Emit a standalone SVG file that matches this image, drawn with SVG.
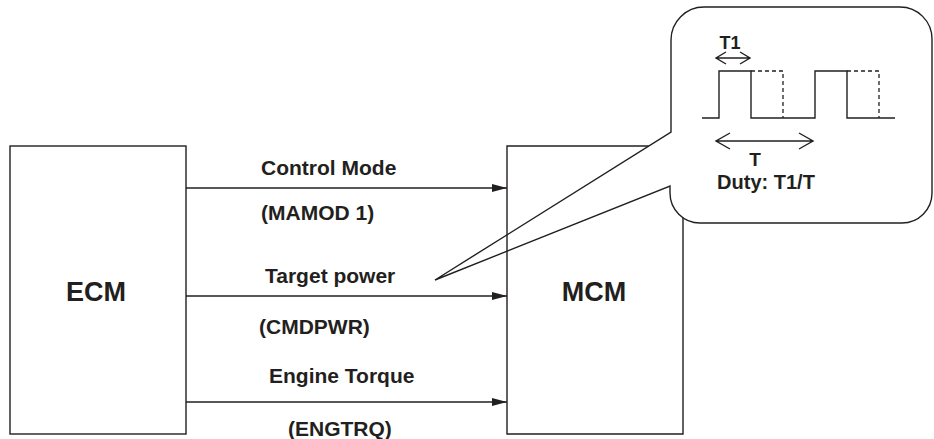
<svg xmlns="http://www.w3.org/2000/svg" width="934" height="439" viewBox="0 0 934 439">
<defs>
<style>
.ln{fill:none;stroke:#231f20;stroke-width:1.4}
.box{fill:#fff;stroke:#231f20;stroke-width:1.4}
.t{font-family:"Liberation Sans",Arial,sans-serif;font-weight:bold;fill:#231f20}
.lbl{font-size:21px}
.big{font-size:27px;text-anchor:middle}
.dash{fill:none;stroke:#231f20;stroke-width:1.3;stroke-dasharray:4 3}
</style>
<marker id="ah" markerWidth="15" markerHeight="10" refX="15" refY="5" orient="auto" markerUnits="userSpaceOnUse">
<path d="M0,1 L15,5 L0,9 Z" fill="#231f20"/>
</marker>
</defs>
<rect width="934" height="439" fill="#fff"/>

<g id="ECM">
<rect class="box" x="10" y="146" width="176" height="288"/>
<text class="t big" x="96" y="301">ECM</text>
</g>

<g id="connectors">
<line class="ln" x1="186" y1="188" x2="507" y2="188" marker-end="url(#ah)"/>
<line class="ln" x1="186" y1="296" x2="507" y2="296" marker-end="url(#ah)"/>
<line class="ln" x1="186" y1="402" x2="507" y2="402" marker-end="url(#ah)"/>
</g>

<g id="labels">
<text class="t lbl" x="261" y="175">Control Mode</text>
<text class="t lbl" x="261" y="220">(MAMOD 1)</text>
<text class="t lbl" x="265" y="283">Target power</text>
<text class="t lbl" x="259" y="334">(CMDPWR)</text>
<text class="t lbl" x="269" y="383">Engine Torque</text>
<text class="t lbl" x="288" y="436">(ENGTRQ)</text>
</g>

<g id="callout">
<path class="box" d="M671,132 V40 A33,33 0 0 1 704,7 H900 A32,32 0 0 1 932,39 V193 A30,30 0 0 1 902,223 H700 A30,30 0 0 1 670,193 V186 L435,280 Z"/>
<path class="ln" d="M702,118 H719 V71 H751 V118 H815 V71 H847 V118 H895"/>
<path class="dash" d="M751,71 H783 V118"/>
<path class="dash" d="M847,71 H879 V118"/>
<path class="ln" d="M716,58 H750 M726,52 L716,58 L726,64 M740,52 L750,58 L740,64"/>
<text class="t" x="730" y="49" font-size="18" text-anchor="middle">T1</text>
<path class="ln" d="M716,141 H813 M730,133 L716,141 L730,149 M799,133 L813,141 L799,149"/>
<text class="t" x="755" y="166" font-size="19" text-anchor="middle">T</text>
<text class="t" x="766" y="189" font-size="20" text-anchor="middle">Duty: T1/T</text>
</g>

<g id="MCM">
<path class="ln" d="M648.7,146 H507 V434 H683 V217.5"/>
<text class="t big" x="594" y="301">MCM</text>
</g>
</svg>
